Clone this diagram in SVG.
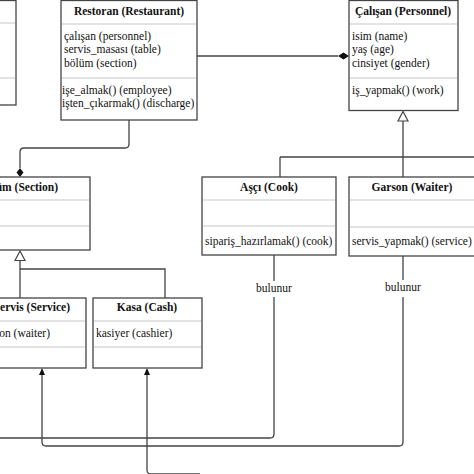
<svg xmlns="http://www.w3.org/2000/svg" width="474" height="474" viewBox="0 0 474 474">
<style>
.box{fill:#fff;stroke:#444;stroke-width:1.3}
.sep{stroke:#c8c8c8;stroke-width:1.2}
text{font-family:'Liberation Serif','Times New Roman','DejaVu Serif',serif;font-size:11.5px;fill:#111}
.h{font-weight:bold;text-anchor:middle}
.c{fill:none;stroke:#444;stroke-width:1.3}
</style>
<rect width="474" height="474" fill="#fff"/>
<g id="connectors">
<path class="c" d="M197,56 H338"/>
<path d="M338,56 L343.5,52.5 L349,56 L343.5,59.5 Z" fill="#111"/>
<path class="c" d="M129,120 V144 Q129,148 125,148 H24 Q20,148 20,152 V168"/>
<path d="M20,168 L23.5,172.5 L20,177 L16.5,172.5 Z" fill="#111"/>
<path class="c" d="M20,261 V298 M20,269 H165 V298"/>
<path d="M20,251 L25,260.5 L15,260.5 Z" fill="#fff" stroke="#444" stroke-width="1.2"/>
<path class="c" d="M403,121 V177 M280,157 H480 M280,157 V177"/>
<path d="M403,111.5 L408,121 L398,121 Z" fill="#fff" stroke="#444" stroke-width="1.2"/>
<path class="c" d="M274,255 V281 M274,297 V434 Q274,438 270,438 H-10"/>
<path class="c" d="M403,256 V280 M403,297 V442 Q403,446 399,446 H46 Q42,446 42,442 V374"/>
<path d="M42,368 L45,375 L39,375 Z" fill="#111"/>
<path class="c" d="M147,374 V470 Q147,474 151,474 H200"/>
<path d="M147,368 L150,375 L144,375 Z" fill="#111"/>
<text x="274" y="292" text-anchor="middle" font-family="Liberation Serif, serif">bulunur</text>
<text x="403" y="291" text-anchor="middle" font-family="Liberation Serif, serif">bulunur</text>
</g>
<g id="left-top">
<rect class="box" x="-100" y="0.5" width="116" height="104.5"/>
<line class="sep" x1="-99" y1="23" x2="15" y2="23"/>
<line class="sep" x1="-99" y1="78" x2="15" y2="78"/>
</g>
<g id="restoran" font-family="Liberation Serif, serif">
<rect class="box" x="61" y="0.5" width="136" height="119.5"/>
<line class="sep" x1="62" y1="24" x2="196" y2="24"/>
<line class="sep" x1="62" y1="78" x2="196" y2="78"/>
<text class="h" x="129" y="15">Restoran (Restaurant)</text>
<text x="64" y="40">çalışan (personnel)</text>
<text x="64" y="53">servis_masası (table)</text>
<text x="64" y="67">bölüm (section)</text>
<text x="62" y="94">işe_almak() (employee)</text>
<text x="62" y="107">işten_çıkarmak() (discharge)</text>
</g>
<g id="calisan">
<rect class="box" x="349" y="0.5" width="109" height="110"/>
<line class="sep" x1="350" y1="24" x2="457" y2="24"/>
<line class="sep" x1="350" y1="78" x2="457" y2="78"/>
<text class="h" x="403" y="15">Çalışan (Personnel)</text>
<text x="352" y="40">isim (name)</text>
<text x="352" y="53">yaş (age)</text>
<text x="352" y="67">cinsiyet (gender)</text>
<text x="352" y="94">iş_yapmak() (work)</text>
</g>
<g id="bolum">
<rect class="box" x="-50" y="177" width="140" height="73"/>
<line class="sep" x1="-49" y1="200" x2="89" y2="200"/>
<line class="sep" x1="-49" y1="226" x2="89" y2="226"/>
<text x="58" y="191" text-anchor="end" font-weight="bold">Bölüm (Section)</text>
</g>
<g id="asci">
<rect class="box" x="202" y="177" width="134" height="78"/>
<line class="sep" x1="203" y1="200" x2="335" y2="200"/>
<line class="sep" x1="203" y1="226" x2="335" y2="226"/>
<text class="h" x="269" y="191">Aşçı (Cook)</text>
<text x="205" y="245">sipariş_hazırlamak() (cook)</text>
</g>
<g id="garson">
<rect class="box" x="349" y="177" width="130" height="79"/>
<line class="sep" x1="350" y1="200" x2="478" y2="200"/>
<line class="sep" x1="350" y1="227" x2="478" y2="227"/>
<text class="h" x="412" y="191">Garson (Waiter)</text>
<text x="352" y="245">servis_yapmak() (service)</text>
</g>
<g id="servis">
<rect class="box" x="-50" y="298" width="136" height="70"/>
<line class="sep" x1="-49" y1="321" x2="85" y2="321"/>
<line class="sep" x1="-49" y1="347" x2="85" y2="347"/>
<text x="70" y="311" text-anchor="end" font-weight="bold">Servis (Service)</text>
<text x="50" y="337" text-anchor="end">garson (waiter)</text>
</g>
<g id="kasa">
<rect class="box" x="93" y="298" width="109" height="70"/>
<line class="sep" x1="94" y1="321" x2="201" y2="321"/>
<line class="sep" x1="94" y1="347" x2="201" y2="347"/>
<text class="h" x="147" y="311">Kasa (Cash)</text>
<text x="96" y="337">kasiyer (cashier)</text>
</g>
</svg>
